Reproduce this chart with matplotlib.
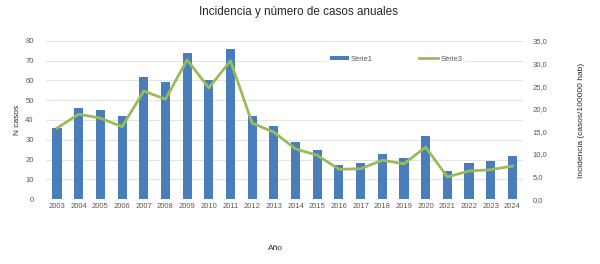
import numpy as np
import matplotlib
matplotlib.use('Agg')
import matplotlib.pyplot as plt

years = ['2003', '2004', '2005', '2006', '2007', '2008', '2009', '2010', '2011', '2012', '2013',
         '2014', '2015', '2016', '2017', '2018', '2019', '2020', '2021', '2022', '2023', '2024']
casos = [36, 46, 45, 42, 62, 59, 74, 60, 76, 42, 37, 29, 25, 17, 18, 23, 21, 32, 14, 18, 19, 22]
incidencia = [15.7, 18.8, 17.9, 16.0, 23.9, 22.1, 30.8, 24.6, 30.6, 16.8, 14.8,
              11.1, 9.7, 6.6, 6.7, 8.6, 7.8, 11.5, 4.9, 6.2, 6.5, 7.3]

plt.rcParams['font.family'] = ['Liberation Sans', 'DejaVu Sans']
tc = '#595959'

fig = plt.figure(figsize=(6, 2.64), dpi=100)
ax = fig.add_axes([0.077, 0.246, 0.795, 0.599])
x = np.arange(len(years))
b = ax.bar(x, casos, width=0.42, color='#4a7ebb', zorder=2, label='Sèrie1')
ax.set_ylim(0, 80)
ax.set_yticks(range(0, 81, 10))
ax.set_xlim(-0.5, len(years) - 0.5)
ax.set_xticks(x)
ax.set_xticklabels(years)
ax.grid(axis='y', color='#e3e3e3', linewidth=0.8, zorder=0)
ax.tick_params(axis='y', labelsize=5.5, colors=tc, length=0, pad=9)
ax.tick_params(axis='x', labelsize=5.5, colors=tc, length=0, pad=3)
for s in ax.spines.values():
    s.set_visible(False)
ax.set_ylabel('N casos', fontsize=6, color='#262626')
ax.yaxis.set_label_coords(-0.052, 0.5)
ax.set_xlabel('Año', fontsize=6, color='#262626')
ax.xaxis.set_label_coords(0.48, -0.29)

ax2 = ax.twinx()
l, = ax2.plot(x, incidencia, color='#9bbb59', linewidth=2, zorder=3, label='Sèrie3')
ax2.set_ylim(0, 35)
ax2.set_yticks(np.arange(0, 36, 5))
ax2.set_yticklabels([('%.1f' % v).replace('.', ',') for v in np.arange(0, 36, 5)])
ax2.tick_params(labelsize=5.5, colors=tc, length=0, pad=7)
for s in ax2.spines.values():
    s.set_visible(False)
ax2.set_ylabel('Incidencia (casos/100000 hab)', fontsize=6, color='#262626')
ax2.yaxis.set_label_coords(1.115, 0.5)

leg = ax2.legend([b, l], ['Sèrie1', 'Sèrie3'], loc='upper left', bbox_to_anchor=(0.58, 0.95),
                 ncol=2, frameon=True, fontsize=5.5, columnspacing=6, handlelength=2.5,
                 handleheight=0.3, handletextpad=0.3)
leg.get_frame().set_edgecolor('none')
leg.get_frame().set_facecolor('white')
leg.get_frame().set_alpha(1)
for t in leg.get_texts():
    t.set_color(tc)

fig.text(0.497, 0.955, 'Incidencia y número de casos anuales', fontsize=8.4, color='#262626',
         ha='center', va='center')
fig.savefig('out.png', dpi=100)
